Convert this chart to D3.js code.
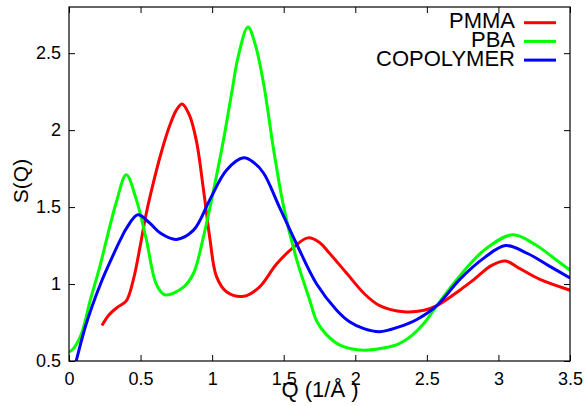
<!DOCTYPE html>
<html>
<head>
<meta charset="utf-8">
<script src="https://cdn.jsdelivr.net/npm/d3@7"></script>
<style>
  body { margin: 0; background: #fff; }
  svg text { font-family: "Liberation Sans", Arial, sans-serif; }
</style>
</head>
<body>
<svg width="587" height="406"></svg>
<script>
// S(Q) curves, [Q, S]
var pmma = [[0.23,0.73],[0.28,0.80],[0.34,0.85],[0.40,0.89],[0.45,1.03],[0.50,1.26],[0.54,1.46],[0.59,1.66],
  [0.64,1.84],[0.70,2.02],[0.75,2.13],[0.79,2.17],[0.84,2.10],[0.89,1.93],[0.94,1.61],[0.985,1.29],[1.03,1.05],
  [1.10,0.95],[1.22,0.92],[1.33,0.98],[1.45,1.13],[1.57,1.24],[1.67,1.30],[1.75,1.27],[1.82,1.20],[1.94,1.07],
  [2.06,0.94],[2.17,0.86],[2.34,0.82],[2.48,0.83],[2.57,0.86],[2.73,0.96],[2.83,1.03],[2.95,1.12],[3.05,1.15],
  [3.15,1.10],[3.29,1.03],[3.5,0.96]];
var pba = [[0.0,0.56],[0.02,0.57],[0.08,0.66],[0.15,0.90],[0.22,1.13],[0.26,1.28],[0.33,1.53],[0.40,1.71],
  [0.47,1.55],[0.54,1.29],[0.61,1.0],[0.67,0.93],[0.80,0.98],[0.87,1.07],[0.94,1.31],[1.01,1.61],[1.08,1.94],
  [1.14,2.26],[1.18,2.47],[1.25,2.67],[1.30,2.56],[1.36,2.30],[1.43,1.87],[1.50,1.50],[1.59,1.16],[1.68,0.90],
  [1.73,0.76],[1.80,0.67],[1.90,0.60],[2.06,0.57],[2.20,0.585],[2.30,0.61],[2.40,0.67],[2.48,0.745],[2.57,0.86],
  [2.71,1.03],[2.90,1.22],[3.10,1.32],[3.25,1.26],[3.40,1.16],[3.5,1.09]];
var copolymer = [[0.03,0.43],[0.05,0.50],[0.12,0.74],[0.22,1.0],[0.29,1.15],[0.36,1.29],[0.40,1.36],[0.48,1.45],
  [0.56,1.40],[0.64,1.33],[0.75,1.29],[0.87,1.35],[0.985,1.55],[1.10,1.74],[1.22,1.82],[1.29,1.79],[1.36,1.72],
  [1.47,1.50],[1.59,1.26],[1.73,1.0],[1.87,0.83],[1.96,0.755],[2.06,0.71],[2.17,0.69],[2.30,0.72],[2.43,0.77],
  [2.57,0.86],[2.73,1.03],[2.90,1.17],[3.05,1.25],[3.20,1.20],[3.35,1.12],[3.5,1.04]];

var seriesNames = ["PMMA", "PBA", "COPOLYMER"];
var seriesColors = ["#ff0000", "#00ff00", "#0000ff"];
var xTicks = [0, 0.5, 1, 1.5, 2, 2.5, 3, 3.5];
var yTicks = [0.5, 1, 1.5, 2, 2.5];

var svg = d3.select("svg");
var marginLeft = 69, marginTop = 7, w = 501, h = 354;

var x = d3.scaleLinear().domain([0, 3.5]).range([0, w]);
var y = d3.scaleLinear().domain([0.5, 2.8]).range([h, 0]);

var chart = svg.append("g").attr("transform", `translate(${marginLeft}, ${marginTop})`);

svg.append("defs").append("clipPath").attr("id", "clip")
  .append("rect").attr("width", w).attr("height", h);

var line = d3.line()
  .x(d => x(d[0]))
  .y(d => y(d[1]))
  .curve(d3.curveCatmullRom.alpha(0.5));

var all = [pmma, pba, copolymer];
chart.append("g").attr("clip-path", "url(#clip)")
  .selectAll("path").data(all).enter()
  .append("path")
  .attr("d", line)
  .attr("fill", "none")
  .attr("stroke", (d, i) => seriesColors[i])
  .attr("stroke-width", 3);

// frame with inward ticks on all sides
function styleAxis(g) {
  g.select(".domain").remove();
  g.selectAll("line").attr("stroke", "#000");
  g.selectAll("text").attr("font-size", 18).attr("fill", "#000");
}
chart.append("g").attr("transform", `translate(0, ${h})`)
  .call(d3.axisBottom(x).tickValues(xTicks).tickFormat(d3.format("")).tickSizeInner(-6).tickPadding(11))
  .call(styleAxis);
chart.append("g")
  .call(d3.axisTop(x).tickValues(xTicks).tickFormat("").tickSizeInner(-6))
  .call(styleAxis);
chart.append("g")
  .call(d3.axisLeft(y).tickValues(yTicks).tickFormat(d3.format("")).tickSizeInner(-6).tickPadding(8))
  .call(styleAxis);
chart.append("g").attr("transform", `translate(${w}, 0)`)
  .call(d3.axisRight(y).tickValues(yTicks).tickFormat("").tickSizeInner(-6))
  .call(styleAxis);
chart.append("rect").attr("width", w).attr("height", h)
  .attr("fill", "none").attr("stroke", "#000").attr("stroke-width", 1.2);

// axis titles
svg.append("text").attr("x", 320).attr("y", 397).attr("text-anchor", "middle")
  .attr("font-size", 22).text("Q (1/Å )");
svg.append("text").attr("transform", "translate(28, 181) rotate(-90)")
  .attr("text-anchor", "middle").attr("font-size", 21).text("S(Q)");

// legend
var leg = svg.append("g").selectAll("g").data(seriesNames).enter()
  .append("g").attr("transform", (d, i) => `translate(0, ${22.7 + i * 18.7})`);
leg.append("text").attr("x", 515).attr("y", 5.5).attr("text-anchor", "end")
  .attr("font-size", 22).text(d => d);
leg.append("line").attr("x1", 524).attr("x2", 556)
  .attr("stroke", (d, i) => seriesColors[i]).attr("stroke-width", 3);
</script>
</body>
</html>
